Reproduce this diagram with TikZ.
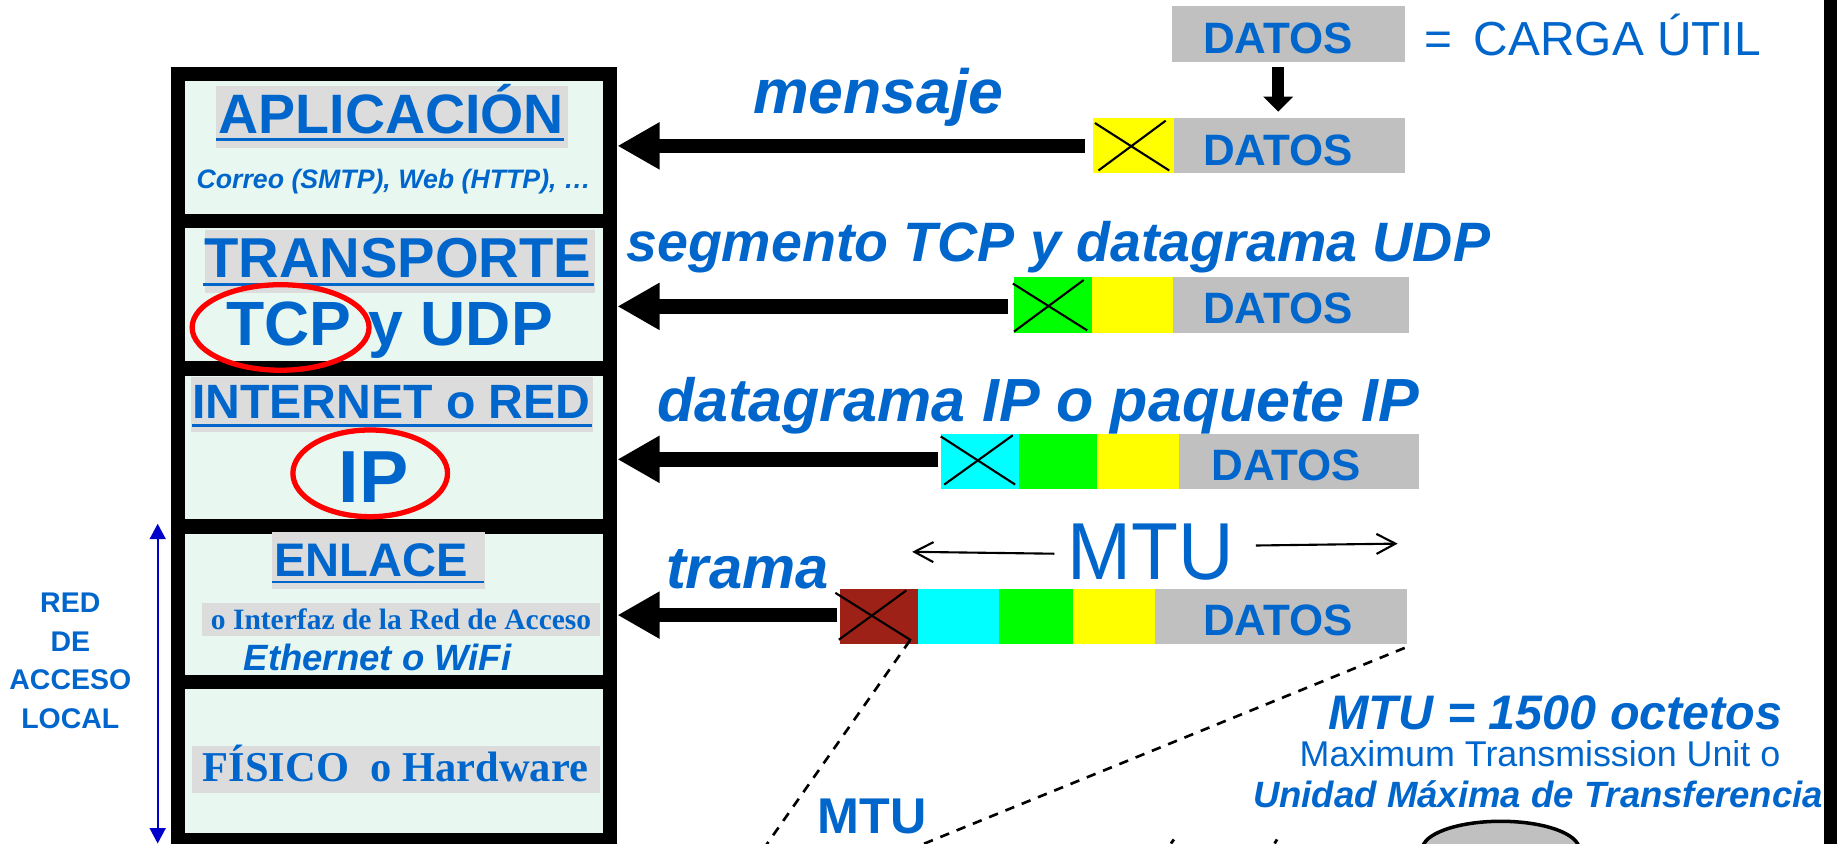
\documentclass[tikz,border=0pt]{standalone}
\usepackage{fontspec}
\usepackage{graphicx}
\setmainfont{Liberation Sans}
\newfontfamily\serifbf{Liberation Serif}
\usetikzlibrary{arrows.meta,fit,calc}
\definecolor{txtblue}{RGB}{0,102,204}
\definecolor{cellfill}{RGB}{232,248,240}
\definecolor{lblgray}{RGB}{220,220,220}
\definecolor{datgray}{RGB}{192,192,192}
\definecolor{hdrbrown}{RGB}{157,33,22}
\definecolor{arrblue}{RGB}{0,0,204}
\definecolor{hdrgreen}{RGB}{0,255,0}
\definecolor{hdrcyan}{RGB}{0,255,255}
\definecolor{hdryellow}{RGB}{255,255,0}
\newcommand\fsz[1]{\fontsize{#1pt}{#1pt}\selectfont}
\begin{document}
\begin{tikzpicture}[x=0.011716cm, y=-0.011716cm,
 txt/.style={inner sep=0pt, outer sep=0pt, text=txtblue},
 pbox/.style={inner sep=0pt, outer sep=0pt, draw=none},
 uline/.style={draw=txtblue, line width=0.7pt},
 bigarr/.style={line width=4.15pt, -{Triangle[length=12pt,width=12.6pt]}},
 xmark/.style={line width=0.6pt, draw=black},
 dashln/.style={line width=0.75pt, dash pattern=on 2.7pt off 2.3pt},
 thinarr/.style={line width=0.6pt, -{Straight Barb[length=5.4pt,width=5.7pt]}},
 redring/.style={draw=red, line width=1.5pt},
]
\clip (0,0) rectangle (1568,720);
\fill[white] (0,0) rectangle (1568,720);

% ---------- layer stack ----------
\node[pbox, fill=black, fit={(146,57)(527,730)}] (frame) {};
\node[pbox, fill=cellfill, fit={(158,69)(515,183)}] (c1) {};
\node[pbox, fill=cellfill, fit={(158,195)(515,308)}] (c2) {};
\node[pbox, fill=cellfill, fit={(158,321)(515,443)}] (c3) {};
\node[pbox, fill=cellfill, fit={(158,456)(515,576)}] (c4) {};
\node[pbox, fill=cellfill, fit={(158,588)(515,711)}] (c5) {};

% gray label backgrounds
\node[pbox, fill=lblgray, fit={(184,73)(485,126)}] (g1) {};
\node[pbox, fill=lblgray, fit={(175,196)(508,250)}] (g2) {};
\node[pbox, fill=lblgray, fit={(163,321.5)(506,368.5)}] (g3) {};
\node[pbox, fill=lblgray, fit={(232,454)(414,503)}] (g4) {};
\node[pbox, fill=lblgray, fit={(172,514.5)(512,543)}] (g4b) {};
\node[pbox, fill=lblgray, fit={(164,637)(512,677)}] (g5) {};

% layer texts
\node[txt, anchor=base, font=\bfseries\fsz{15.8}] (tApl) at (334,114) {APLICACIÓN};
\draw[uline] ($(tApl.base west)+(-2,5)$) -- ($(tApl.base east)+(0,5)$);
\node[txt, anchor=base, font=\bfseries\itshape\fsz{7.6}] (tCorreo) at (336,161) {Correo (SMTP), Web (HTTP), …};

\node[txt, anchor=base, font=\bfseries\fsz{16}] (tTra) at (339.5,237) {TRANSPORTE};
\draw[uline] ($(tTra.base west)+(-1,6)$) -- ($(tTra.base east)+(2,6)$);
\node[txt, anchor=base west, font=\bfseries\fsz{17.8}] (tTcp) at (193,294.5) {TCP y UDP};

\node[txt, anchor=base west, font=\bfseries\fsz{13.7}] (tInt) at (164,357) {INTERNET o RED};
\draw[uline] ($(tInt.base west)+(0,6)$) -- ($(tInt.base east)+(1,6)$);
\node[txt, anchor=base, font=\bfseries\fsz{21}] (tIP) at (319,428.5) {IP};

\node[txt, anchor=base west, font=\bfseries\fsz{13.4}] (tEnl) at (234,492.4) {ENLACE};
\draw[uline] ($(tEnl.base west)+(-2,4.2)$) -- ($(tEnl.base east)+(14,4.2)$);
\node[txt, anchor=base west, font=\serifbf\bfseries\fsz{8.4}] (tIfz) at (180,537) {o Interfaz de la Red de Acceso};
\node[txt, anchor=base west, font=\bfseries\itshape\fsz{10.4}] (tEth) at (208,572.5) {Ethernet o WiFi};

\node[txt, anchor=base west, font=\serifbf\bfseries\fsz{12.1}] (tFis) at (173,667) {FÍSICO\ \ o Hardware};

% red rings
\draw[redring] (239.5,279.5) ellipse [x radius=75.5, y radius=36.5];
\draw[redring] (316,404) ellipse [x radius=66, y radius=37];

% RED DE ACCESO LOCAL
\node[txt, align=center, font=\bfseries\fontsize{8.1pt}{11pt}\selectfont] (tRed) at (60,564) {RED\\DE\\ACCESO\\LOCAL};
\coordinate (rTop) at (134.6,447);
\coordinate (rBot) at (134.6,720);
\draw[arrblue, line width=0.66pt, {Triangle[length=4.4pt,width=4.5pt]}-{Triangle[length=4.4pt,width=4.5pt]}] (rTop) -- (rBot);

% ---------- top: DATOS = CARGA UTIL ----------
\node[pbox, fill=datgray, fit={(1000,5)(1199,53)}] (dTop) {};
\node[txt, anchor=base west, font=\bfseries\fsz{12.5}] (tdTop) at (1027,46) {DATOS};
\node[txt, anchor=base west, font=\fsz{13.6}] (tCarga) at (1216,47) {=\hspace{0.45em}CARGA ÚTIL};

% ---------- packet 1: mensaje ----------
\node[pbox, fill=hdryellow, fit={(932.6,101)(1002,148)}] (h1) {};
\node[pbox, fill=datgray, fit={(1002,101)(1199,148)}] (d1) {};
\node[txt, anchor=base west, font=\bfseries\fsz{12.5}] (td1) at (1027,141.4) {DATOS};
\draw[xmark] ($(h1.north west)+(2,4)$) -- ($(h1.south east)+(-4,-2.5)$);
\draw[xmark] ($(h1.south west)+(5,-2.5)$) -- ($(h1.north east)+(-7,2)$);
\draw[line width=3.3pt, -{Triangle[length=4.3pt,width=8.3pt]}] ($(dTop.south)+(-8.5,4.5)$) -- ($(d1.north)+(-9.5,-5.7)$);
\node[txt, anchor=base west, font=\bfseries\itshape\fsz{17.8}] (lMen) at (643,96.7) {mensaje};
\draw[bigarr] ($(h1.west)+(-6.6,0)$) -- (frame.east |- h1.west);

% ---------- packet 2: segmento ----------
\node[pbox, fill=hdrgreen, fit={(865.5,236)(932,284)}] (h2) {};
\node[pbox, fill=hdryellow, fit={(932,236)(1001,284)}] (y2) {};
\node[pbox, fill=datgray, fit={(1001,236)(1203,284)}] (d2) {};
\node[txt, anchor=base west, font=\bfseries\fsz{12.5}] (td2) at (1027,276.5) {DATOS};
\draw[xmark] ($(h2.north west)+(-1,6)$) -- ($(h2.south east)+(-4,-2)$);
\draw[xmark] ($(h2.south west)+(0,-1)$) -- ($(h2.north east)+(-7,3)$);
\node[txt, anchor=base west, font=\bfseries\itshape\fsz{15.8}] (lSeg) at (534.6,223) {segmento TCP y datagrama UDP};
\draw[bigarr] ($(h2.west)+(-5,1.5)$) -- (frame.east |- {$(h2.west)+(0,1.5)$});

% ---------- packet 3: datagrama IP ----------
\node[pbox, fill=hdrcyan, fit={(803,370.5)(869.5,417.6)}] (h3) {};
\node[pbox, fill=hdrgreen, fit={(869.5,370.5)(936.5,417.6)}] (g3p) {};
\node[pbox, fill=hdryellow, fit={(936.5,370.5)(1006.5,417.6)}] (y3) {};
\node[pbox, fill=datgray, fit={(1006.5,370.5)(1211,417.6)}] (d3) {};
\node[txt, anchor=base west, font=\bfseries\fsz{12.5}] (td3) at (1034,409.7) {DATOS};
\draw[xmark] ($(h3.north west)+(0,2)$) -- ($(h3.south east)+(-3,-4)$);
\draw[xmark] ($(h3.south west)+(3,-4)$) -- ($(h3.north east)+(-5,1)$);
\node[txt, anchor=base west, font=\bfseries\itshape\fsz{17.35}] (lDat) at (560.8,360) {datagrama IP o paquete IP};
\draw[bigarr] ($(h3.west)+(-2,-2)$) -- (frame.east |- {$(h3.west)+(0,-2)$});

% ---------- packet 4: trama ----------
\node[pbox, fill=hdrbrown, fit={(717,503)(783.6,550)}] (h4) {};
\node[pbox, fill=hdrcyan, fit={(783.6,503)(852.7,550)}] (c4p) {};
\node[pbox, fill=hdrgreen, fit={(852.7,503)(915.6,550)}] (g4p) {};
\node[pbox, fill=hdryellow, fit={(915.6,503)(986,550)}] (y4) {};
\node[pbox, fill=datgray, fit={(986,503)(1201,550)}] (d4) {};
\node[txt, anchor=base west, font=\bfseries\fsz{12.5}] (td4) at (1027,542.6) {DATOS};
\draw[xmark] ($(h4.north west)+(-4,3)$) -- ($(h4.south east)+(-6,-3.5)$);
\draw[xmark] ($(h4.south west)+(-1,-4)$) -- ($(h4.north east)+(-10,1)$);
\node[txt, anchor=base west, font=\bfseries\itshape\fsz{17}] (lTra) at (568.5,502) {trama};
\draw[bigarr] ($(h4.west)+(-3,-1.5)$) -- (frame.east |- {$(h4.west)+(0,-1.5)$});

% ---------- MTU span ----------
\node[txt, anchor=base west, font=\fsz{23}] (mtuBig) at (911,495) {\scalebox{0.95}[1]{MTU}};
\coordinate (mtuL) at (778.6,471);
\coordinate (mtuR) at (1193,464);
\draw[thinarr] ($(mtuBig.west)+(-11,1)$) -- (mtuL);
\draw[thinarr] ($(mtuBig.east)+(19,-6)$) -- (mtuR);

% ---------- zoom lines ----------
\coordinate (z1e) at (647.9,730);
\coordinate (z2e) at (764.5,730);
\draw[dashln] ($(h4.south east)+(-7,-3.2)$) -- (z1e);
\draw[dashln] ($(d4.south east)+(-2,3)$) -- (z2e);
\node[txt, anchor=base west, font=\bfseries\fsz{14.3}] (mtuSmall) at (698,711) {MTU};

% ---------- MTU definition ----------
\node[txt, anchor=base west, font=\bfseries\itshape\fsz{13.8}] (mtuEq) at (1134,623) {MTU = 1500 octetos};
\node[txt, anchor=base, font=\fsz{10.2}] (mtuEn) at (1314.5,654.4) {Maximum Transmission Unit o};
\node[txt, anchor=base west, font=\bfseries\itshape\fsz{10.4}] (mtuEs) at (1069.6,689) {Unidad Máxima de Transferencia};

% bottom partial shape
\draw[line width=1pt, fill=datgray] (1281,725) ellipse [x radius=67, y radius=24];
\draw[line width=0.8pt] (1002,716.5) -- (999.5,720);
\draw[line width=0.8pt] (1090,716.5) -- (1088,720);

% right border
\fill[black] (1557,0) rectangle (1568,720);
\end{tikzpicture}
\end{document}
